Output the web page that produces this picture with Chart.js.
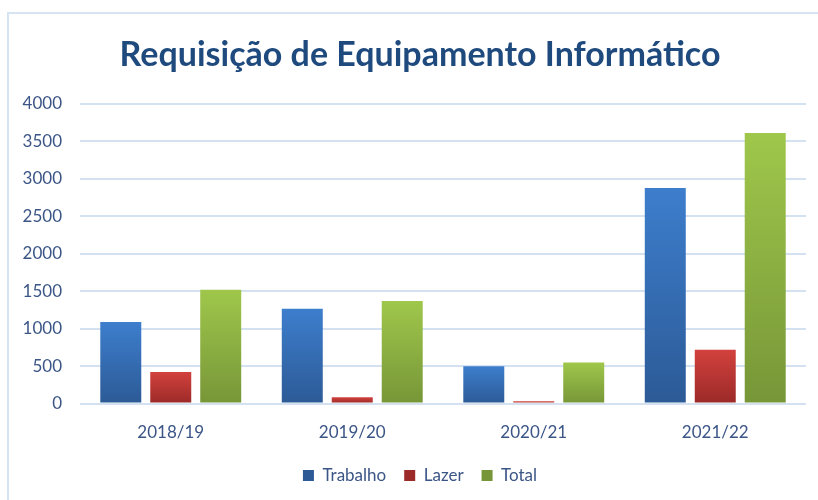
<!DOCTYPE html>
<html>
<head>
<meta charset="utf-8">
<script src="https://cdn.jsdelivr.net/npm/chart.js@4"></script>
<style>
  body { margin: 0; background: #fff; }
  #frame { position: absolute; left: 7px; top: 12px; width: 900px; height: 600px; border: 2px solid #d6e3f3; }
  #chart { position: absolute; left: 0; top: 0; }
</style>
</head>
<body>
<div id="frame"></div>
<canvas id="chart" width="818" height="500"></canvas>
<script>
// data
const categories = ["2018/19", "2019/20", "2020/21", "2021/22"];
const trabalho = [1090, 1265, 500, 2875];
const lazer = [420, 85, 30, 720];
const total = [1520, 1370, 550, 3610];
const yTicks = [0, 500, 1000, 1500, 2000, 2500, 3000, 3500, 4000];

const textColor = "#3b5586";
const fontName = "Lato";

// vertical gradient per bar, like the office style bars
function barGradient(top, bottom, legendColor) {
  return function (ctx) {
    const chart = ctx.chart;
    if (ctx.type !== "data" || !chart.chartArea) return legendColor;
    const y = chart.scales.y;
    const y0 = y.getPixelForValue(ctx.raw);
    const y1 = y.getPixelForValue(0);
    const g = chart.ctx.createLinearGradient(0, y0, 0, y1);
    g.addColorStop(0, top);
    g.addColorStop(1, bottom);
    return g;
  };
}

const ctx = document.getElementById("chart").getContext("2d");
new Chart(ctx, {
  type: "bar",
  data: {
    labels: categories,
    datasets: [
      {
        label: "Trabalho",
        data: trabalho,
        backgroundColor: barGradient("#3d7ecd", "#2c5a96", "#3466ad"),
      },
      {
        label: "Lazer",
        data: lazer,
        backgroundColor: barGradient("#d2413d", "#9b2a28", "#be3532"),
      },
      {
        label: "Total",
        data: total,
        backgroundColor: barGradient("#9fc74b", "#779638", "#8db444"),
      },
    ],
  },
  options: {
    responsive: false,
    animation: false,
    categoryPercentage: 0.826,
    barPercentage: 0.82,
    layout: { padding: { left: 34, right: 12, top: 35, bottom: 6 } },
    scales: {
      x: {
        grid: { display: false },
        border: { display: false },
        ticks: { color: textColor, font: { family: fontName, size: 17 }, padding: 11 },
        afterFit: (scale) => {
          scale.height -= 5;
        },
      },
      y: {
        min: 0,
        max: 4000,
        afterBuildTicks: (scale) => {
          scale.ticks = yTicks.map((v) => ({ value: v }));
        },
        afterFit: (scale) => {
          scale.width = 46;
          // labels reach left of the narrow axis box, so don't clip them
          scale._computeLabelArea = () => null;
        },
        grid: { color: "#d3e1f1", lineWidth: 2, drawTicks: false },
        border: { display: false },
        ticks: {
          color: textColor,
          font: { family: fontName, size: 17 },
          padding: 18,
          callback: (value) => String(value),
        },
      },
    },
    plugins: {
      title: {
        display: true,
        text: "Requisição de Equipamento Informático",
        color: "#1f4a7e",
        font: { family: fontName, size: 34, weight: "bold" },
        padding: { top: 0, bottom: 28 },
      },
      legend: {
        position: "bottom",
        labels: {
          color: textColor,
          font: { family: fontName, size: 17 },
          boxWidth: 11,
          boxHeight: 11,
          padding: 18,
        },
      },
      tooltip: { enabled: false },
    },
  },
});
</script>
</body>
</html>
